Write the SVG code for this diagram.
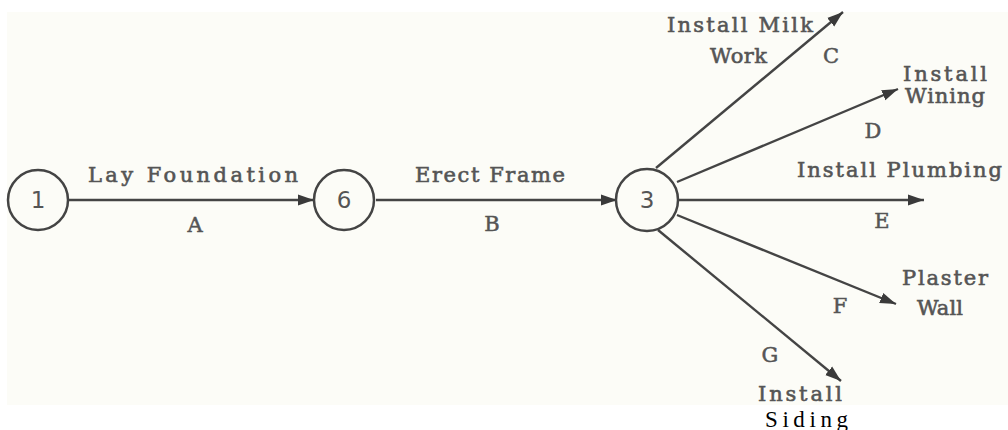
<svg xmlns="http://www.w3.org/2000/svg" width="1008" height="430" viewBox="0 0 1008 430">
  <defs>
    <marker id="arrow" markerUnits="userSpaceOnUse" markerWidth="17" markerHeight="13" refX="16" refY="6.5" orient="auto">
      <path d="M0,1 L16,6.5 L0,12 Z" fill="#3a3a3a"/>
    </marker>
    <style>
      .node circle { fill: none; stroke: #444; stroke-width: 2.5; }
      .num { font-family: "DejaVu Sans", "Liberation Sans", sans-serif; font-size: 23px; fill: #555; text-anchor: middle; }
      .lbl { font-family: "DejaVu Serif", "Liberation Serif", serif; font-size: 21px; fill: #555; stroke: #555; stroke-width: 0.6; }
      .act { font-family: "DejaVu Serif", "Liberation Serif", serif; font-size: 21px; fill: #555; stroke: #555; stroke-width: 0.5; text-anchor: middle; }
      .edge { stroke: #444; stroke-width: 2.4; fill: none; marker-end: url(#arrow); }
      .print { font-family: "Liberation Serif", "Times New Roman", serif; font-size: 23px; fill: #000; }
    </style>
  </defs>

  <!-- paper -->
  <rect x="0" y="0" width="1008" height="430" fill="#ffffff"/>
  <rect x="7" y="12" width="1001" height="393" fill="#fcfcf7"/>

  <!-- activity arrows -->
  <g id="connectors">
    <line class="edge" x1="69" y1="200" x2="314" y2="200"/>
    <line class="edge" x1="376" y1="200" x2="617" y2="200"/>
    <line class="edge" x1="656" y1="168" x2="843" y2="12"/>
    <line class="edge" x1="677" y1="182" x2="898" y2="89"/>
    <line class="edge" x1="679" y1="200" x2="924" y2="200"/>
    <line class="edge" x1="677" y1="215" x2="896" y2="304"/>
    <line class="edge" x1="658" y1="230" x2="841" y2="381"/>
  </g>

  <!-- events -->
  <g id="node-1" class="node">
    <circle cx="38" cy="200" r="30"/>
    <text class="num" x="38" y="208">1</text>
  </g>
  <g id="node-6" class="node">
    <circle cx="344" cy="200" r="30"/>
    <text class="num" x="344" y="208">6</text>
  </g>
  <g id="node-3" class="node">
    <circle cx="647" cy="200" r="31"/>
    <text class="num" x="647" y="208">3</text>
  </g>

  <!-- activity labels -->
  <g id="labels">
    <text class="lbl" x="88" y="182" textLength="210" lengthAdjust="spacing">Lay Foundation</text>
    <text class="act" x="195" y="232">A</text>

    <text class="lbl" x="415" y="182" textLength="150" lengthAdjust="spacing">Erect Frame</text>
    <text class="act" x="492" y="231">B</text>

    <text class="lbl" x="667" y="32" textLength="146" lengthAdjust="spacing">Install Milk</text>
    <text class="lbl" x="710" y="63" textLength="57" lengthAdjust="spacing">Work</text>
    <text class="act" x="831" y="63">C</text>

    <text class="lbl" x="903" y="81" textLength="84" lengthAdjust="spacing">Install</text>
    <text class="lbl" x="905" y="103" textLength="80" lengthAdjust="spacing">Wining</text>
    <text class="act" x="873" y="138">D</text>

    <text class="lbl" x="797" y="177" textLength="205" lengthAdjust="spacing">Install Plumbing</text>
    <text class="act" x="882" y="228">E</text>

    <text class="lbl" x="902" y="285" textLength="86" lengthAdjust="spacing">Plaster</text>
    <text class="lbl" x="917" y="315" textLength="46" lengthAdjust="spacing">Wall</text>
    <text class="act" x="840" y="313">F</text>

    <text class="act" x="770" y="362">G</text>
    <text class="lbl" x="758" y="401" textLength="84" lengthAdjust="spacing">Install</text>
    <text class="print" x="765" y="427" textLength="83" lengthAdjust="spacing">Siding</text>
  </g>
</svg>
